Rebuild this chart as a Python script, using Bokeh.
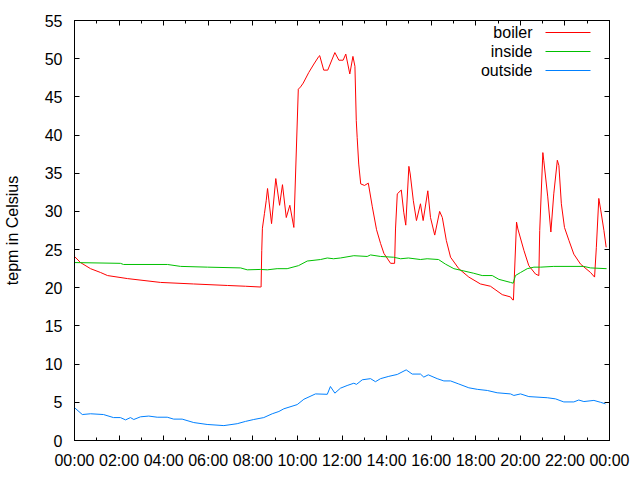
from bokeh.plotting import figure
from bokeh.models import Range1d, FixedTicker, LinearAxis, Label, Arrow
from bokeh.embed import file_html
from bokeh.resources import INLINE

# ---- data (hours since midnight, temperature in Celsius) ----
boiler_t = [0.0, 0.27, 0.72, 1.17, 1.48, 2.38, 3.86, 5.34, 6.86, 7.67, 8.34, 8.37,
            8.40, 8.43, 8.52, 8.60, 8.66, 8.84, 9.03, 9.20, 9.33, 9.50, 9.66, 9.84,
            10.04, 10.14, 10.26, 10.51, 10.74, 10.96, 11.00, 11.18, 11.36, 11.68,
            11.86, 12.05, 12.17, 12.35, 12.49, 12.58, 12.64, 12.68, 12.75, 12.84,
            13.01, 13.18, 13.36, 13.55, 13.73, 13.88, 14.18, 14.36, 14.40, 14.48,
            14.66, 14.77, 14.86, 15.00, 15.06, 15.20, 15.34, 15.52, 15.64, 15.85,
            15.97, 16.16, 16.38, 16.50, 16.68, 16.87, 17.24, 17.69, 18.21, 18.66,
            19.19, 19.56, 19.66, 19.69, 19.83, 19.89, 20.16, 20.38, 20.68, 20.83,
            20.87, 21.01, 21.05, 21.23, 21.37, 21.50, 21.66, 21.73, 21.84, 21.98,
            22.18, 22.40, 22.70, 23.15, 23.33, 23.41, 23.52, 23.60, 23.75, 23.85]
boiler_v = [24.1, 23.3, 22.5, 22.0, 21.6, 21.2, 20.7, 20.5, 20.3, 20.2, 20.1, 20.1,
            24.9, 27.8, 29.7, 31.4, 33.0, 28.4, 34.3, 30.8, 33.5, 29.2, 30.8, 27.9,
            46.0, 46.3, 46.8, 48.2, 49.3, 50.3, 50.4, 48.5, 48.5, 50.8,
            49.8, 49.8, 50.6, 48.0, 50.3, 49.0, 41.9, 39.7, 36.2, 33.6,
            33.4, 33.7, 30.6, 27.6, 25.8, 24.5, 23.2, 23.2, 27.7, 32.3,
            32.8, 29.9, 28.2, 35.9, 34.9, 31.4, 28.8, 31.0, 28.8, 32.7,
            29.2, 26.9, 30.0, 29.2, 26.2, 24.0, 22.5, 21.4, 20.5, 20.2,
            19.1, 18.8, 18.4, 18.4, 28.6, 27.7, 24.9, 22.9, 21.8, 21.6,
            27.5, 37.7, 36.7, 31.9, 27.3, 32.3, 36.7, 36.0, 31.0, 27.9,
            26.2, 24.4, 23.1, 22.0, 21.4, 25.3, 31.7, 30.3, 27.5, 25.3]

inside_t = [0.0, 2.06, 2.20, 4.17, 4.76, 5.97, 7.45, 7.75, 8.34, 8.65, 9.09, 9.54,
            10.05, 10.44, 11.04, 11.34, 11.62, 11.93, 12.53, 13.13, 13.28, 13.73,
            14.31, 14.63, 14.98, 15.52, 15.82, 16.33, 16.64, 17.02, 17.47, 17.91,
            18.29, 18.74, 19.04, 19.56, 19.68, 19.78, 20.01, 20.31, 20.61, 20.91,
            21.50, 22.84, 23.15, 23.87]
inside_v = [23.3, 23.2, 23.05, 23.05, 22.8, 22.7, 22.6, 22.35, 22.4, 22.35, 22.5, 22.5,
            22.9, 23.5, 23.7, 23.9, 23.8, 23.9, 24.2, 24.1, 24.3, 24.1,
            24.0, 23.8, 23.9, 23.7, 23.8, 23.7, 23.1, 22.5, 22.2, 21.9,
            21.6, 21.6, 21.1, 20.7, 20.6, 21.6, 22.0, 22.5, 22.7, 22.7,
            22.8, 22.8, 22.6, 22.5]

outside_t = [0.0, 0.35, 0.72, 1.30, 1.75, 2.06, 2.29, 2.51, 2.66, 2.96, 3.33, 3.71,
             4.16, 4.45, 4.83, 5.35, 5.95, 6.70, 7.30, 7.67, 8.04, 8.49, 8.87, 9.17,
             9.39, 9.99, 10.29, 10.81, 11.34, 11.48, 11.68, 11.93, 12.23, 12.53,
             12.65, 12.91, 13.28, 13.50, 13.73, 14.10, 14.48, 14.88, 15.15, 15.52,
             15.67, 15.87, 16.27, 16.57, 16.87, 17.24, 17.69, 18.07, 18.52, 18.96,
             19.56, 19.71, 20.01, 20.38, 21.21, 21.58, 21.95, 22.40, 22.62, 22.85,
             23.30, 23.60, 23.82]
outside_v = [4.3, 3.4, 3.5, 3.4, 3.0, 3.0, 2.7, 3.0, 2.75, 3.1, 3.2, 3.05,
             3.05, 2.8, 2.8, 2.35, 2.1, 1.95, 2.2, 2.5, 2.75, 3.0, 3.5, 3.8,
             4.15, 4.7, 5.4, 6.1, 6.05, 7.07, 6.2, 6.85, 7.2, 7.5,
             7.35, 7.95, 8.1, 7.7, 8.1, 8.4, 8.65, 9.25, 8.7, 8.7,
             8.3, 8.6, 8.1, 7.8, 7.8, 7.4, 6.9, 6.7, 6.55, 6.25,
             6.1, 5.9, 6.1, 5.75, 5.6, 5.45, 5.05, 5.05, 5.3, 5.1,
             5.25, 5.0, 4.8]

x_ticks = [0, 2, 4, 6, 8, 10, 12, 14, 16, 18, 20, 22, 24]
x_tick_labels = ["00:00", "02:00", "04:00", "06:00", "08:00", "10:00", "12:00",
                 "14:00", "16:00", "18:00", "20:00", "22:00", "00:00"]
x_minor = [1, 3, 5, 7, 9, 11, 13, 15, 17, 19, 21, 23]
y_ticks = [0, 5, 10, 15, 20, 25, 30, 35, 40, 45, 50, 55]

series_names = ["boiler", "inside", "outside"]
series_colors = ["#ff0000", "#00c000", "#0080ff"]

FONT = "Liberation Sans"
FS = "16px"

p = figure(width=640, height=480, output_backend="svg", toolbar_location=None,
           x_range=Range1d(0, 24), y_range=Range1d(0, 55),
           min_border_left=74, min_border_right=31, min_border_top=20,
           min_border_bottom=40)
p.xgrid.visible = False
p.ygrid.visible = False
p.outline_line_color = "black"
p.outline_line_alpha = 1.0
p.outline_line_width = 1
p.background_fill_color = "white"
p.border_fill_color = "white"

for t, v, c in zip([boiler_t, inside_t, outside_t],
                   [boiler_v, inside_v, outside_v], series_colors):
    p.line(t, v, line_color=c, line_width=1)

xt = FixedTicker(ticks=x_ticks, minor_ticks=x_minor)
yt = FixedTicker(ticks=y_ticks, minor_ticks=[])

def style(ax, show_labels):
    ax.axis_line_color = "black"
    ax.major_tick_in = 5
    ax.major_tick_out = 0
    ax.minor_tick_in = 3
    ax.minor_tick_out = 0
    ax.major_tick_line_color = "black"
    ax.minor_tick_line_color = "black"
    ax.major_label_text_font = FONT
    ax.major_label_text_font_size = FS
    if show_labels:
        ax.major_label_text_color = "black"
    else:
        ax.major_label_text_color = None
        ax.major_label_standoff = 0

xa = p.xaxis[0]
xa.ticker = xt
xa.major_label_overrides = {k: s for k, s in zip(x_ticks, x_tick_labels)}
xa.major_label_standoff = 11
style(xa, True)

ya = p.yaxis[0]
ya.ticker = yt
ya.major_label_standoff = 12
ya.axis_label = "tepm in Celsius"
ya.axis_label_text_font = FONT
ya.axis_label_text_font_size = FS
ya.axis_label_text_font_style = "normal"
ya.axis_label_text_color = "black"
ya.axis_label_standoff = 21
style(ya, True)

top = LinearAxis(ticker=xt, major_label_overrides={k: "" for k in x_ticks})
style(top, False)
p.add_layout(top, "above")
right = LinearAxis(ticker=yt, major_label_overrides={k: "" for k in y_ticks})
style(right, False)
p.add_layout(right, "right")

# legend (gnuplot style: label left, sample right), placed in screen units
rows = [408, 389, 370]
for name, c, ry in zip(series_names, series_colors, rows):
    p.add_layout(Label(x=458, y=ry, x_units="screen", y_units="screen", text=name,
                       text_align="right", text_baseline="middle",
                       text_font=FONT, text_font_size=FS, text_color="black"))
    p.add_layout(Arrow(end=None, x_start=471, y_start=ry, x_end=516, y_end=ry,
                       start_units="screen", end_units="screen",
                       line_color=c, line_width=1))

open("out.html", "w").write(file_html(p, INLINE))
